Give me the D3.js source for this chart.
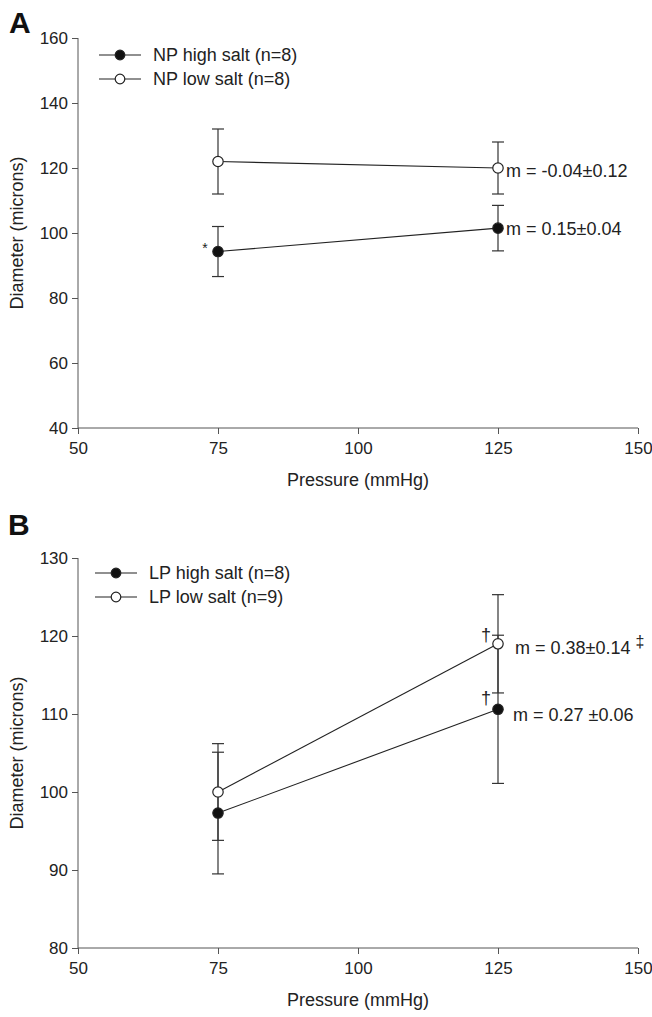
<!DOCTYPE html>
<html lang="en">
<head>
<meta charset="utf-8">
<title>Diameter vs pressure</title>
<script src="https://cdn.jsdelivr.net/npm/d3@7"></script>
<style>
  body { margin: 0; background: #fff; }
  svg text { font-family: "Liberation Sans", Arial, Helvetica, sans-serif; fill: #222; }
  .axis path, .axis line { stroke: #555; stroke-width: 1; }
  .axis text { font-size: 17px; fill: #222; }
</style>
</head>
<body>
<div id="chart"></div>
<script>
// data
var pressure = [75, 125];
var xTicks = [50, 75, 100, 125, 150];

// panel A: normal pressure (NP)
var npHigh = [94.3, 101.5];
var npHighErr = [7.7, 7.0];
var npLow = [122, 120];
var npLowErr = [10, 8];
var yTicksA = [40, 60, 80, 100, 120, 140, 160];
var slopesA = ["m = 0.15\u00b10.04", "m = -0.04\u00b10.12"];

// panel B: low pressure (LP)
var lpHigh = [97.3, 110.6];
var lpHighErr = [7.8, 9.5];
var lpLow = [100, 119];
var lpLowErr = [6.2, 6.3];
var yTicksB = [80, 90, 100, 110, 120, 130];
var slopesB = ["m = 0.27 \u00b10.06", "m = 0.38\u00b10.14"];

var W = 652, H = 1017;
var svg = d3.select("#chart").append("svg")
  .attr("width", W).attr("height", H);

var x = d3.scaleLinear().domain([50, 150]).range([78, 638]);

function panel(opts) {
  var y = d3.scaleLinear().domain(opts.yDomain).range([opts.bottom, opts.top]);
  var g = svg.append("g");

  // axes
  g.append("g").attr("class", "axis")
    .attr("transform", "translate(0," + opts.bottom + ")")
    .call(d3.axisBottom(x).tickValues(xTicks).tickSize(6).tickPadding(8).tickSizeOuter(0))
    .call(function(s) { s.select(".domain").attr("d", "M" + x(50) + ",0H" + x(150)); });
  g.append("g").attr("class", "axis")
    .attr("transform", "translate(" + x(50) + ",0)")
    .call(d3.axisLeft(y).tickValues(opts.yTicks).tickSize(6).tickPadding(4).tickSizeOuter(0))
    .call(function(s) { s.select(".domain").attr("d", "M0," + opts.top + "V" + opts.bottom); });

  // axis titles
  g.append("text")
    .attr("x", (x(50) + x(150)) / 2).attr("y", opts.bottom + 58)
    .attr("text-anchor", "middle").style("font-size", "18px")
    .text("Pressure (mmHg)");
  g.append("text")
    .attr("transform", "translate(23," + (opts.top + opts.bottom) / 2 + ") rotate(-90)")
    .attr("text-anchor", "middle").style("font-size", "18px")
    .text("Diameter (microns)");

  // panel letter
  g.append("text")
    .attr("x", opts.letterX).attr("y", opts.letterY)
    .style("font-size", "30px").style("font-weight", "bold").style("fill", "#111")
    .text(opts.letter);

  var line = d3.line().x(function(d) { return x(d.p); }).y(function(d) { return y(d.v); });

  opts.series.forEach(function(s) {
    var pts = pressure.map(function(p, i) { return { p: p, v: s.values[i], e: s.err[i] }; });

    // error bars
    pts.forEach(function(d) {
      var eg = g.append("g").attr("stroke", "#333").attr("stroke-width", 1.2);
      eg.append("line").attr("x1", x(d.p)).attr("x2", x(d.p))
        .attr("y1", y(d.v - d.e)).attr("y2", y(d.v + d.e));
      [d.v - d.e, d.v + d.e].forEach(function(v) {
        eg.append("line").attr("x1", x(d.p) - 6).attr("x2", x(d.p) + 6)
          .attr("y1", y(v)).attr("y2", y(v));
      });
    });

    g.append("path").datum(pts)
      .attr("d", line).attr("fill", "none")
      .attr("stroke", "#222").attr("stroke-width", 1.1);
  });

  // markers on top
  opts.series.forEach(function(s) {
    g.selectAll(null).data(pressure.map(function(p, i) { return { p: p, v: s.values[i] }; }))
      .enter().append("circle")
      .attr("cx", function(d) { return x(d.p); })
      .attr("cy", function(d) { return y(d.v); })
      .attr("r", 5.2)
      .attr("fill", s.filled ? "#111" : "#fff")
      .attr("stroke", "#222").attr("stroke-width", 1.2);
  });

  // legend
  opts.series.forEach(function(s, i) {
    var ly = opts.legendY + i * 24;
    g.append("line").attr("x1", opts.legendX).attr("x2", opts.legendX + 42)
      .attr("y1", ly).attr("y2", ly).attr("stroke", "#222").attr("stroke-width", 1.1);
    g.append("circle").attr("cx", opts.legendX + 21).attr("cy", ly).attr("r", 4.8)
      .attr("fill", s.filled ? "#111" : "#fff").attr("stroke", "#222").attr("stroke-width", 1.2);
    g.append("text").attr("x", opts.legendX + 54).attr("y", ly)
      .attr("dy", "0.35em").style("font-size", "18px")
      .text(s.label);
  });

  return { g: g, y: y };
}

// panel A
var A = panel({
  yDomain: [40, 160], top: 38, bottom: 428, yTicks: yTicksA,
  letter: "A", letterX: 9, letterY: 33,
  legendX: 99, legendY: 55,
  series: [
    { label: "NP high salt (n=8)", values: npHigh, err: npHighErr, filled: true },
    { label: "NP low salt (n=8)", values: npLow, err: npLowErr, filled: false }
  ]
});
A.g.append("text").attr("x", x(125) + 8).attr("y", A.y(npHigh[1]) + 1)
  .attr("dy", "0.35em").style("font-size", "18px").text(slopesA[0]);
A.g.append("text").attr("x", x(125) + 8).attr("y", A.y(npLow[1]) + 3)
  .attr("dy", "0.35em").style("font-size", "18px").text(slopesA[1]);
A.g.append("text").attr("x", x(75) - 13).attr("y", A.y(npHigh[0]) + 1)
  .attr("text-anchor", "middle").style("font-size", "14px").text("*");

// panel B
var B = panel({
  yDomain: [80, 130], top: 558, bottom: 948, yTicks: yTicksB,
  letter: "B", letterX: 8, letterY: 535,
  legendX: 95, legendY: 573,
  series: [
    { label: "LP high salt (n=8)", values: lpHigh, err: lpHighErr, filled: true },
    { label: "LP low salt (n=9)", values: lpLow, err: lpLowErr, filled: false }
  ]
});
B.g.append("text").attr("x", x(125) + 15).attr("y", B.y(lpHigh[1]) + 5)
  .attr("dy", "0.35em").style("font-size", "18px").text(slopesB[0]);
var lowLabel = B.g.append("text").attr("x", x(125) + 17).attr("y", B.y(lpLow[1]) + 4)
  .attr("dy", "0.35em").style("font-size", "18px").text(slopesB[1]);
var lowEnd = x(125) + 17 + lowLabel.node().getComputedTextLength();
B.g.append("text").attr("x", lowEnd + 5).attr("y", B.y(lpLow[1]) - 2)
  .attr("dy", "0.35em").style("font-size", "16px").style("fill", "#222").text("\u2021");
B.g.append("text").attr("x", x(125) - 12).attr("y", B.y(lpLow[1]) - 9)
  .attr("text-anchor", "middle").attr("dy", "0.35em").style("font-size", "18px").text("\u2020");
B.g.append("text").attr("x", x(125) - 12).attr("y", B.y(lpHigh[1]) - 12)
  .attr("text-anchor", "middle").attr("dy", "0.35em").style("font-size", "18px").text("\u2020");
</script>
</body>
</html>
